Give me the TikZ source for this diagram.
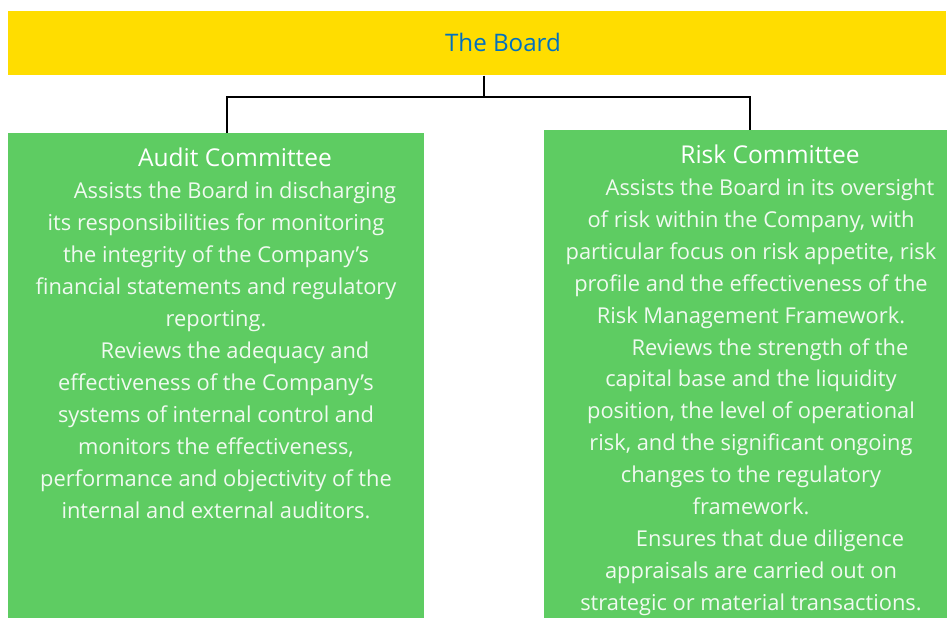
\documentclass[tikz,border=0pt]{standalone}
\usepackage{fontspec}
\setmainfont{Open Sans}
\definecolor{boardyellow}{RGB}{255,221,0}
\definecolor{boardblue}{RGB}{0,112,192}
\definecolor{cgreen}{RGB}{94,204,98}
\definecolor{bodywhite}{RGB}{240,250,240}
\tikzset{
  boardbox/.style={fill=boardyellow, draw=none, anchor=north west, inner sep=0pt, minimum width=703.5pt, minimum height=48pt},
  greenbox/.style={fill=cgreen, draw=none, anchor=north west, inner sep=0pt},
  titletext/.style={anchor=base, inner sep=0pt, font=\fontsize{18.4}{22}\selectfont},
  bodytext/.style={anchor=north, inner sep=0pt, align=center, text=bodywhite, font=\fontsize{16.4}{23.95}\selectfont},
  conn/.style={draw=black, line width=2.2pt},
}
\newcommand{\ind}{\hspace*{28.5pt}}
\begin{document}
\begin{tikzpicture}[x=0.75pt,y=-0.75pt]
\useasboundingbox (0,0) rectangle (947,618);
\node[boardbox] (board) at (8,11) {};
\node[titletext, text=boardblue, font=\fontsize{18.1}{22}\selectfont] (boardtitle) at (503,51) {The Board};
\node[greenbox, minimum width=312pt, minimum height=363.75pt] (audit) at (8,133) {};
\node[greenbox, minimum width=302.25pt, minimum height=366pt] (risk) at (544,130) {};
\node[titletext, text=white] (audittitle) at (235,166) {Audit Committee};
\node[titletext, text=white] (risktitle) at (770,163) {Risk Committee};
\node[bodytext] (audittext) at (216,182) {\ind Assists the Board in discharging\\
its responsibilities for monitoring\\
the integrity of the Company’s\\
financial statements and regulatory\\
reporting.\\
\ind Reviews the adequacy and\\
effectiveness of the Company’s\\
systems of internal control and\\
monitors the effectiveness,\\
performance and objectivity of the\\
internal and external auditors.};
\node[bodytext] (risktext) at (751,178.5) {\ind Assists the Board in its oversight\\
of risk within the Company, with\\
particular focus on risk appetite, risk\\
profile and the effectiveness of the\\
Risk Management Framework.\\
\ind Reviews the strength of the\\
capital base and the liquidity\\
position, the level of operational\\
risk, and the significant ongoing\\
changes to the regulatory\\
framework.\\
\ind Ensures that due diligence\\
appraisals are carried out on\\
strategic or material transactions.};
\coordinate (jc) at (484,97);
\coordinate (jl) at (227,97);
\coordinate (jr) at (750,97);
\draw[conn] (board.south -| jc) -- (jc);
\draw[conn] (audit.north -| jl) |- (jr) -- (risk.north -| jr);
\end{tikzpicture}
\end{document}
